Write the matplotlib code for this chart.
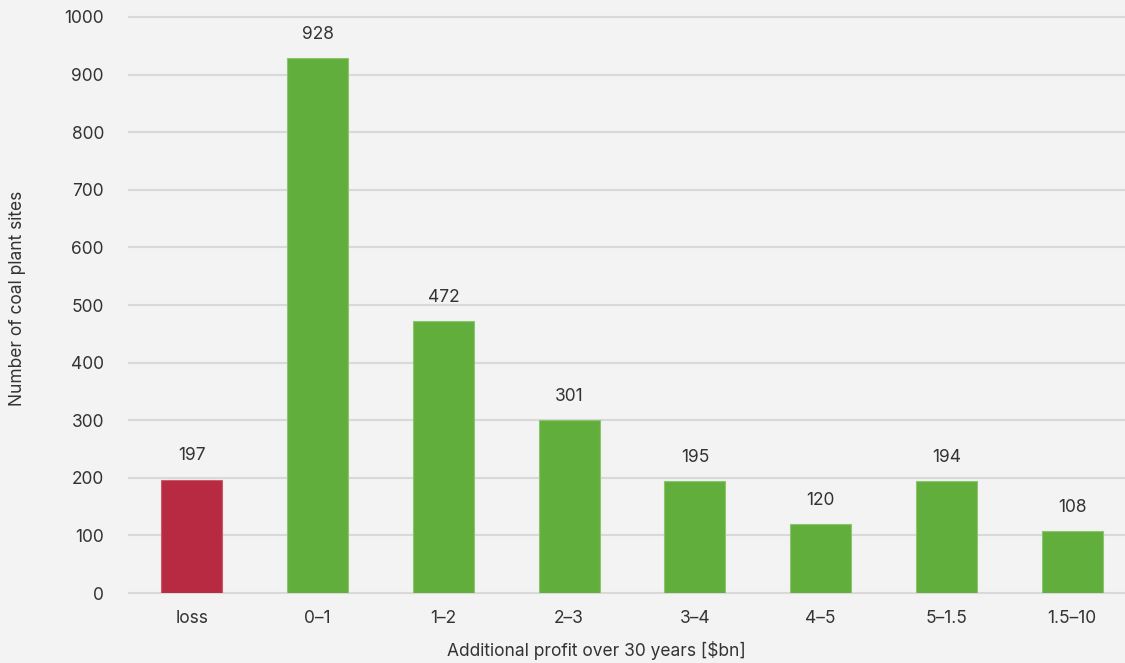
import matplotlib

matplotlib.use("Agg")
import matplotlib.pyplot as plt

categories = ["loss", "0–1", "1–2", "2–3", "3–4", "4–5", "5–1.5", "1.5–10"]
sites = [197, 928, 472, 301, 195, 120, 194, 108]
yticks = [0, 100, 200, 300, 400, 500, 600, 700, 800, 900, 1000]

BG = "#f3f3f3"
GRID = "#d9d9d9"
TEXT = "#333333"
colors = ["#b82a42"] + ["#62ae3c"] * (len(sites) - 1)
edges = ["#c9596b"] + ["#8cc56f"] * (len(sites) - 1)

plt.rcParams["font.family"] = ["Inter", "DejaVu Sans"]

fig = plt.figure(figsize=(11.25, 6.63), dpi=100, facecolor=BG)
ax = fig.add_axes([129 / 1125, 1 - 593 / 663, 996 / 1125, (593 - 17) / 663])
ax.set_facecolor(BG)

x = list(range(len(categories)))
ax.bar(x, sites, width=0.485, color=colors, edgecolor=edges, linewidth=0.8, zorder=3)

for xi, v in zip(x, sites):
    ax.annotate(
        f"{v}",
        (xi, v),
        textcoords="offset points",
        xytext=(0, 17),
        ha="center",
        va="center",
        fontsize=12.5,
        color=TEXT,
    )

ax.set_xlim(-0.5, 7.42)
ax.set_ylim(0, 1000)
ax.set_yticks(yticks)
ax.set_xticks(x)
ax.set_xticklabels(categories)
ax.tick_params(axis="both", length=0, labelsize=12.5, colors=TEXT)
ax.tick_params(axis="y", pad=18)
ax.tick_params(axis="x", pad=12)
ax.grid(axis="y", color=GRID, linewidth=1.5, zorder=0)
for gl in ax.get_ygridlines():
    gl.set_clip_on(False)
ax.set_axisbelow(True)
for spine in ax.spines.values():
    spine.set_visible(False)

fig.text(596 / 1125, 1 - 650 / 663, "Additional profit over 30 years [$bn]",
         ha="center", va="center", fontsize=12.5, color=TEXT)
fig.text(18 / 1125, 1 - 298 / 663, "Number of coal plant sites", rotation=90,
         ha="center", va="center", fontsize=12.5, color=TEXT)

fig.savefig("out.png", facecolor=BG)
